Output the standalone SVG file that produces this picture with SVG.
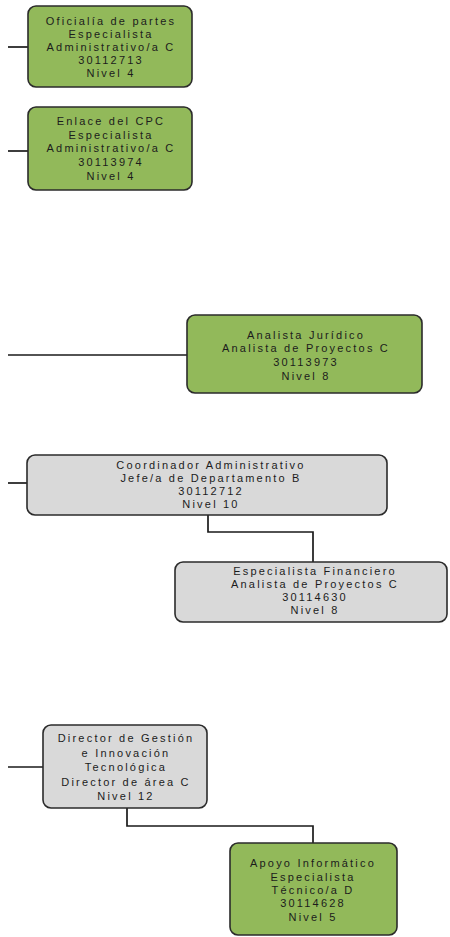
<svg xmlns="http://www.w3.org/2000/svg" width="450" height="937" viewBox="0 0 450 937">
<style>
  .g { fill: #92b95a; stroke: #2b2b2b; stroke-width: 1.6; }
  .s { fill: #d9d9d9; stroke: #2b2b2b; stroke-width: 1.6; }
  text { font-family: "Liberation Sans", Arial, sans-serif; font-size: 11px; letter-spacing: 2.2px; fill: #1c1c1c; text-anchor: middle; }
  .c { fill: none; stroke: #1a1a1a; stroke-width: 1.7; }
</style>
<rect width="450" height="937" fill="#ffffff"/>
<g id="connectors">
  <path class="c" d="M8 47 H28"/>
  <path class="c" d="M8 151 H28"/>
  <path class="c" d="M8 355 H187"/>
  <path class="c" d="M8 483 H27"/>
  <path class="c" d="M208 515 V532 H313 V562"/>
  <path class="c" d="M8 767 H43"/>
  <path class="c" d="M127 808 V826 H313 V843"/>
</g>
<g id="oficialia">
  <rect class="g" x="28" y="6" width="164" height="81" rx="8"/>
  <text x="111" y="25">Oficialía de partes</text>
  <text x="111" y="38">Especialista</text>
  <text x="111" y="51">Administrativo/a C</text>
  <text x="111" y="64">30112713</text>
  <text x="111" y="77">Nivel 4</text>
</g>
<g id="enlace">
  <rect class="g" x="28" y="107" width="164" height="83" rx="8"/>
  <text x="111" y="125">Enlace del CPC</text>
  <text x="111" y="139">Especialista</text>
  <text x="111" y="152">Administrativo/a C</text>
  <text x="111" y="166">30113974</text>
  <text x="111" y="180">Nivel 4</text>
</g>
<g id="analista-juridico">
  <rect class="g" x="187" y="315" width="235" height="78" rx="8"/>
  <text x="306" y="339">Analista Jurídico</text>
  <text x="306" y="352">Analista de Proyectos C</text>
  <text x="306" y="366">30113973</text>
  <text x="306" y="380">Nivel 8</text>
</g>
<g id="coordinador">
  <rect class="s" x="27" y="455" width="360" height="60" rx="8"/>
  <text x="211" y="469">Coordinador Administrativo</text>
  <text x="211" y="482">Jefe/a de Departamento B</text>
  <text x="211" y="495">30112712</text>
  <text x="211" y="508">Nivel 10</text>
</g>
<g id="especialista-financiero">
  <rect class="s" x="175" y="562" width="272" height="60" rx="8"/>
  <text x="315" y="575">Especialista Financiero</text>
  <text x="315" y="588">Analista de Proyectos C</text>
  <text x="315" y="601">30114630</text>
  <text x="315" y="614">Nivel 8</text>
</g>
<g id="director">
  <rect class="s" x="43" y="725" width="164" height="83" rx="8"/>
  <text x="126" y="742">Director de Gestión</text>
  <text x="126" y="757">e Innovación</text>
  <text x="126" y="771">Tecnológica</text>
  <text x="126" y="786">Director de área C</text>
  <text x="126" y="800">Nivel 12</text>
</g>
<g id="apoyo">
  <rect class="g" x="230" y="843" width="167" height="92" rx="8"/>
  <text x="313" y="867">Apoyo Informático</text>
  <text x="313" y="881">Especialista</text>
  <text x="313" y="894">Técnico/a D</text>
  <text x="313" y="907">30114628</text>
  <text x="313" y="921">Nivel 5</text>
</g>
</svg>
